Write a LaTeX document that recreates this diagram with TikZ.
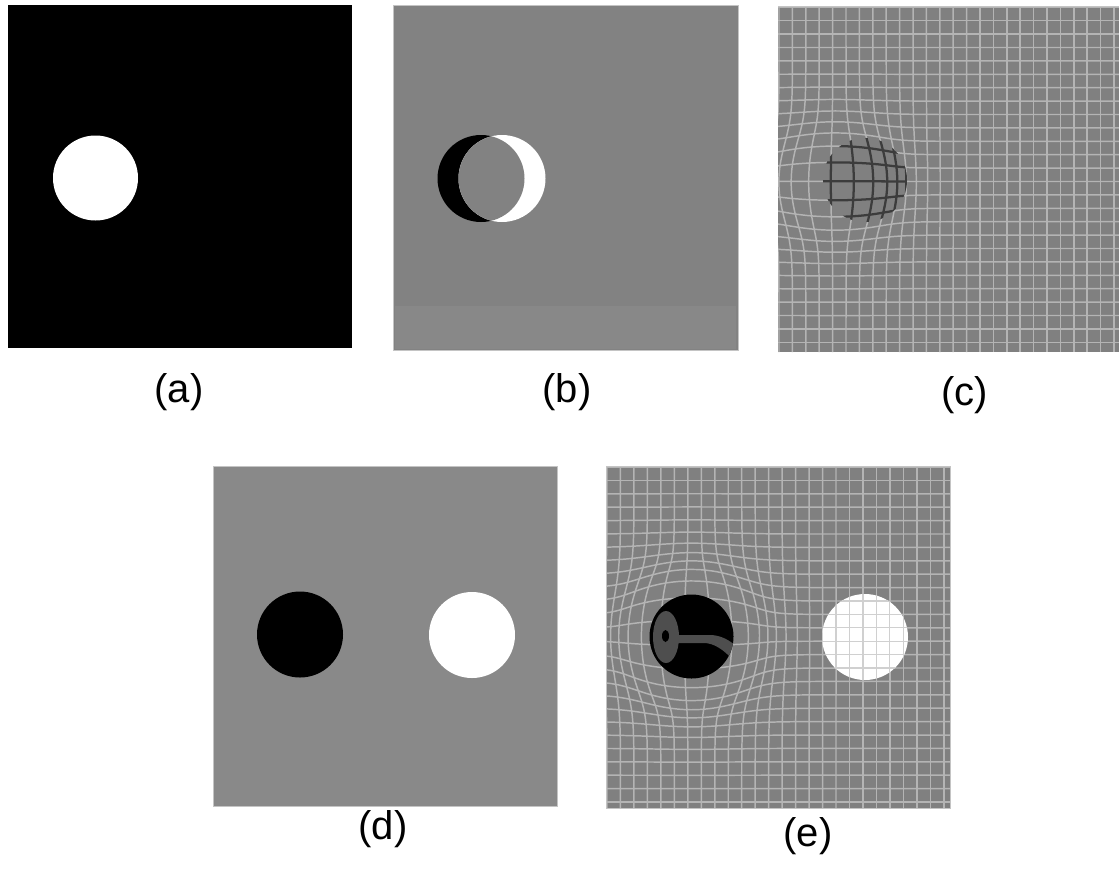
\documentclass[tikz,border=0pt]{standalone}
\usepackage{fontspec}
\setmainfont{Liberation Sans}
\definecolor{gridbg}{HTML}{808080}
\definecolor{gridln}{HTML}{B4B4B4}
\definecolor{darkln}{HTML}{3C3C3C}
\definecolor{bgb}{HTML}{828282}
\definecolor{bandb}{HTML}{888888}
\definecolor{bgd}{HTML}{898989}
\definecolor{edge}{HTML}{C4C4C4}
\definecolor{blob}{HTML}{4E4E4E}
\definecolor{whiteln}{HTML}{D0D0D0}
\begin{document}
\begin{tikzpicture}[x=0.75pt,y=-0.75pt,
  declare function={
    gc(\a,\b)=exp(-(((\a-835)/46)^2+((\b-182)/46)^2));
    ge(\a,\b)=0.9*exp(-(((\a-691.5)/52)^2+((\b-636.5)/52)^2));
  },
  gridline/.style={draw=gridln, line width=1.1pt},
  darkline/.style={draw=darkln, line width=1.7pt},
  panel/.style={draw=edge, line width=0.6pt},
  lbl/.style={font=\fontsize{30}{36}\selectfont, inner sep=0pt},
]
\useasboundingbox (0,0) rectangle (1119,879);
\fill[white] (0,0) rectangle (1119,879);

% ---------- (a)
\fill[black] (8,5) rectangle (352,348);
\fill[white] (95.5,178) circle (42.5);
\node[lbl] (la) at (179,392) {(a)};

% ---------- (b)
\fill[bgb] (393,5) rectangle (738,350);
\fill[bandb] (395,306) rectangle (736,349);
\draw[panel] (393,5) rectangle (738,350);
\fill[black] (481,178.5) circle (43.5);
\fill[white] (502,178.5) circle (43.5);
\begin{scope}
  \clip (481,178.5) circle (43.5);
  \fill[bgb] (502,178.5) circle (43.5);
\end{scope}
\node[lbl] (lb) at (567,392) {(b)};

% ---------- (c)
\fill[gridbg] (778,6) rectangle (1119,352);
\begin{scope}
  \clip (778,6) rectangle (1119,352);
  \foreach \j in {0,...,25}{
    \pgfmathsetmacro\yy{7.3+13.4*\j}
    \draw[gridline] plot[domain=778:1119, samples=90, variable=\t]
      ({\t+0.75*(\t-835)*gc(\t,\yy)}, {\yy+0.45*(\yy-182)*gc(\t,\yy)});
  }
  \foreach \i in {0,...,25}{
    \pgfmathsetmacro\xx{779+13.4*\i}
    \draw[gridline] plot[domain=6:352, samples=90, variable=\t]
      ({\xx+0.75*(\xx-835)*gc(\xx,\t)}, {\t+0.45*(\t-182)*gc(\xx,\t)});
  }
  \fill[gridbg] (865,180) circle (42);
  \clip (865,180) circle (42);
  \foreach \j in {0,...,25}{
    \pgfmathsetmacro\yy{7.3+13.4*\j}
    \draw[darkline] plot[domain=778:1119, samples=90, variable=\t]
      ({\t+0.75*(\t-835)*gc(\t,\yy)}, {\yy+0.45*(\yy-182)*gc(\t,\yy)});
  }
  \foreach \i in {0,...,25}{
    \pgfmathsetmacro\xx{779+13.4*\i}
    \draw[darkline] plot[domain=6:352, samples=90, variable=\t]
      ({\xx+0.75*(\xx-835)*gc(\xx,\t)}, {\t+0.45*(\t-182)*gc(\xx,\t)});
  }
\end{scope}
\draw[panel] (778,6) -- (1119,6);
\node[lbl] (lc) at (964.5,395) {(c)};

% ---------- (d)
\fill[bgd] (213,466) rectangle (557,806);
\draw[panel] (213,466) rectangle (557,806);
\fill[black] (300,634.5) circle (43);
\fill[white] (472,635) circle (43);
\node[lbl] (ld) at (383,829) {(d)};

% ---------- (e)
\fill[gridbg] (606,466) rectangle (950,808);
\begin{scope}
  \clip (606,466) rectangle (950,808);
  \foreach \j in {0,...,25}{
    \pgfmathsetmacro\yy{467+13.4*\j}
    \draw[gridline] plot[domain=606:950, samples=90, variable=\t]
      ({\t+(\t-691.5)*ge(\t,\yy)}, {\yy+(\yy-636.5)*ge(\t,\yy)});
  }
  \foreach \i in {0,...,25}{
    \pgfmathsetmacro\xx{607+13.47*\i}
    \draw[gridline] plot[domain=466:808, samples=90, variable=\t]
      ({\xx+(\xx-691.5)*ge(\xx,\t)}, {\t+(\t-636.5)*ge(\xx,\t)});
  }
\end{scope}
\draw[panel] (606,466) rectangle (950,808);
% black disc with inner structure
\fill[black] (691.5,636.5) circle (42);
\begin{scope}
  \clip (691.5,636.5) circle (42);
  \fill[blob] (666,637) ellipse [x radius=13, y radius=26];
  \fill[blob] (676,635) -- (712,635)
      .. controls (722,636) and (729,640) .. (736,646)
      -- (733,660)
      .. controls (724,650) and (714,643) .. (704,643)
      -- (676,643) -- cycle;
  \fill[black] (665.5,636) ellipse [x radius=3.5, y radius=6];
\end{scope}
% white disc with grid on it
\fill[white] (865,637) circle (43);
\begin{scope}
  \clip (865,637) circle (43);
  \foreach \j in {0,...,25}{
    \draw[whiteln, line width=0.9pt] (606,467+13.4*\j) -- (950,467+13.4*\j);
  }
  \foreach \i in {0,...,25}{
    \draw[whiteln, line width=0.9pt] (607+13.47*\i,466) -- (607+13.47*\i,808);
  }
\end{scope}
\node[lbl] (le) at (808,836) {(e)};
\end{tikzpicture}
\end{document}
